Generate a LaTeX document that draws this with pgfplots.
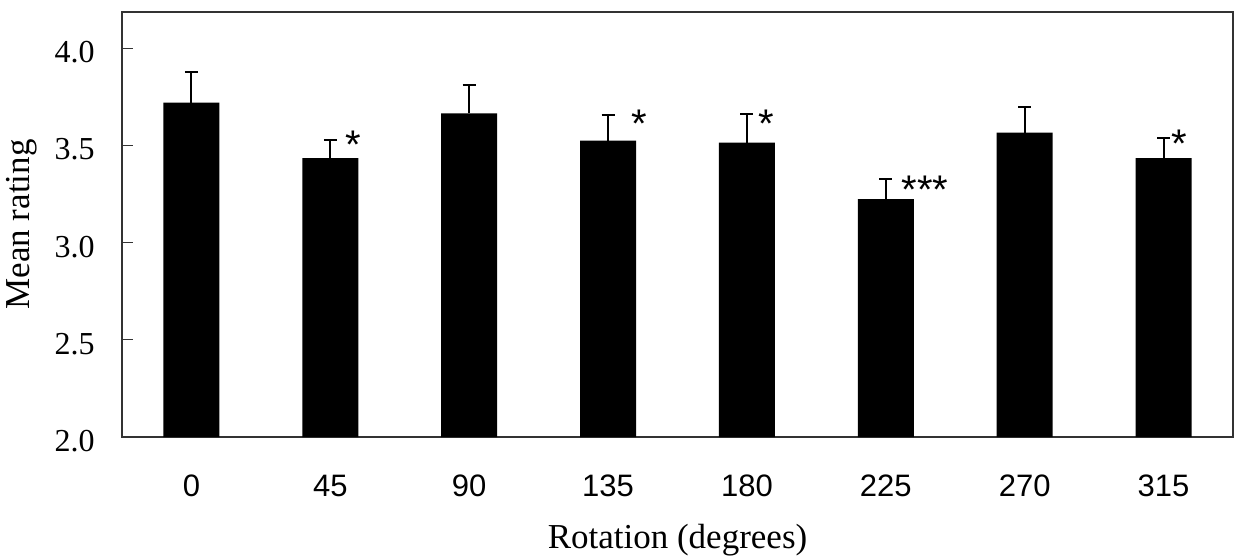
\documentclass[border=0pt]{standalone}
\usepackage{pgfplots}
\pgfplotsset{compat=1.18}
\usepackage{pgfplotstable}
\usepackage{fontspec}
\setmainfont{Liberation Serif}
\newfontfamily\arial{Liberation Sans}

\pgfplotstableread{
x y err
0 3.720 0.156
1 3.434 0.094
2 3.665 0.147
3 3.524 0.131
4 3.514 0.149
5 3.223 0.104
6 3.565 0.134
7 3.434 0.104
}\datatable

\begin{document}
\begin{tikzpicture}
\useasboundingbox (-61pt,-60.5pt) rectangle (556.5pt,218.5pt);
\begin{axis}[
  anchor=south west, at={(0,0)},
  scale only axis,
  width=555.5pt, height=212.5pt,
  xmin=-0.5, xmax=7.5,
  ymin=2, ymax=4.186,
  axis line style={line width=0.6pt, black!80},
  xtick=data,
  xticklabels={0,45,90,135,180,225,270,315},
  major x tick style={draw=none},
  xticklabel style={font=\arial\fontsize{15.5}{18}\selectfont, anchor=center, inner sep=0pt, yshift=-24.5pt},
  ytick={2,2.5,3,3.5,4},
  ytick pos=left,
  tick align=inside,
  major tick length=5.5pt,
  major y tick style={line width=0.6pt, black!80},
  yticklabel style={/pgf/number format/.cd, fixed, fixed zerofill, precision=1, assume math mode=true, /tikz/.cd,
    font=\fontsize{16}{19}\selectfont, anchor=east, inner sep=0pt, xshift=-13.5pt, yshift=-2pt},
  ylabel={Mean rating},
  ylabel style={font=\fontsize{17.5}{21}\selectfont, at={(rel axis cs:0,0.5)}, anchor=center, yshift=50pt},
  xlabel={Rotation (degrees)},
  xlabel style={font=\fontsize{17.5}{21}\selectfont, at={(rel axis cs:0.5,0)}, anchor=center, yshift=-51.5pt},
  clip=true,
]
\addplot[ybar, bar width=28pt, fill=black, draw=none,
  error bars/.cd, y dir=plus, y explicit,
  error mark=|, error mark options={draw=black, mark size=3.25pt, line width=1pt},
  error bar style={draw=black, line width=1pt}]
  table[x=x, y=y, y error=err] {\datatable};
\begin{scope}[every node/.style={font=\arial\fontsize{20}{24}\selectfont, inner sep=0pt, anchor=center}]
\node at (axis cs:1.163,3.505) {*};
\node at (axis cs:3.222,3.613) {*};
\node at (axis cs:4.136,3.613) {*};
\node at (axis cs:5.281,3.270) {***};
\node at (axis cs:7.110,3.510) {*};
\end{scope}
\end{axis}
\end{tikzpicture}
\end{document}
